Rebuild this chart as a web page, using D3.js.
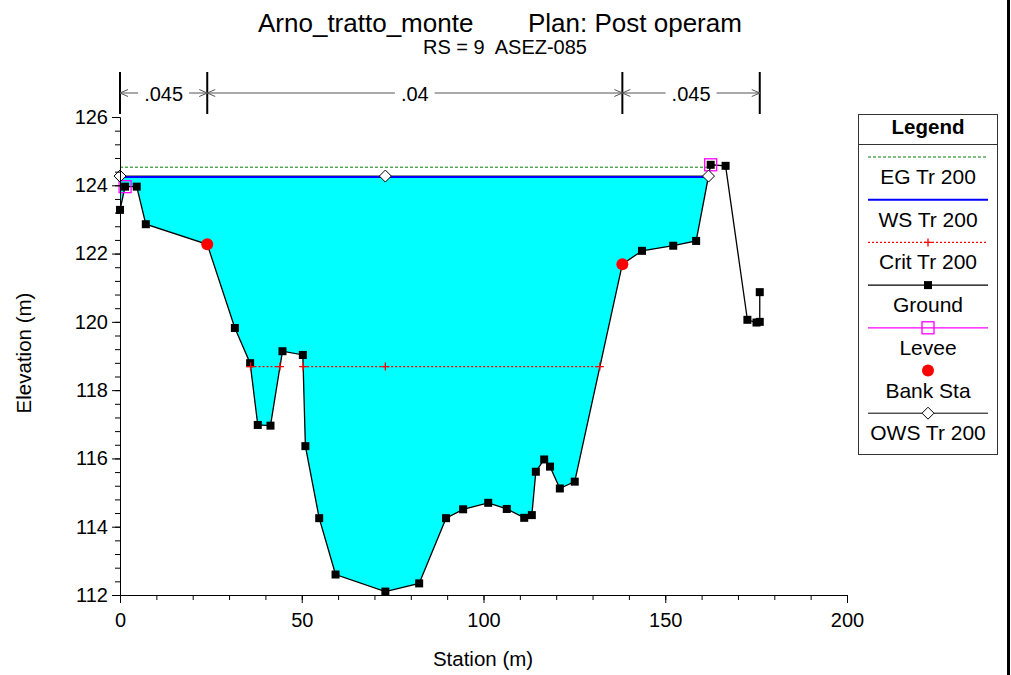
<!DOCTYPE html>
<html>
<head>
<meta charset="utf-8">
<script src="https://cdn.jsdelivr.net/npm/d3@7"></script>
<style>
body { margin: 0; background: #fff; }
text { font-family: "Liberation Sans", Arial, sans-serif; fill: #000; }
</style>
</head>
<body>
<svg id="xs" width="1011" height="675"></svg>
<script>
// ground profile (station m, elevation m)
const groundSta = [0, 1.4, 4.6, 7.1, 24.0, 31.6, 35.8, 37.9, 41.4, 44.7, 50.3, 51.0, 54.8, 59.3, 73.0, 82.3,
    89.7, 94.4, 101.3, 106.4, 111.2, 113.3, 114.4, 116.7, 118.3, 121.0, 125.1, 138.2, 143.6, 152.2, 158.5,
    162.5, 166.6, 172.6, 175.1, 176.0, 176.0];
const groundElev = [123.28, 123.96, 123.96, 122.86, 122.27, 119.82, 118.79, 116.98, 116.96, 119.14, 119.03, 116.36,
    114.25, 112.6, 112.1, 112.34, 114.25, 114.51, 114.7, 114.52, 114.26, 114.34, 115.61, 115.97, 115.76, 115.12,
    115.32, 121.69, 122.08, 122.23, 122.37, 124.6, 124.57, 120.06, 119.98, 120.0, 120.87];

const leveeSta = [1.4, 162.5];
const leveeElev = [123.96, 124.6];
const bankSta = [24.0, 138.2];
const bankElev = [122.27, 121.69];

const wsElev = 124.24;
const wsExtent = [0, 161.9];
const egElev = 124.53;
const egExtent = [0, 161.9];
const owsElev = 124.27;
const owsMarks = [0, 73, 161.9];
const critElev = 118.69;
const critSegs = [[35.9, 44.0], [50.4, 132.0]];
const critMarks = [35.9, 44.0, 50.4, 73, 132.0];

const nBounds = [0, 24.0, 138.2, 176.0];
const nValues = [".045", ".04", ".045"];

const xTicks = [0, 50, 100, 150, 200];
const yTicks = [112, 114, 116, 118, 120, 122, 124, 126];
const legendNames = ["EG Tr 200", "WS Tr 200", "Crit Tr 200", "Ground", "Levee", "Bank Sta", "OWS Tr 200"];

const svg = d3.select("#xs");
const x = d3.scaleLinear().domain([0, 200]).range([120, 847]);
const y = d3.scaleLinear().domain([112, 126]).range([595, 117]);

const ground = groundSta.map((s, i) => [s, groundElev[i]]);

// title
svg.append("text").attr("x", 258).attr("y", 32).style("font-size", "26px").text("Arno_tratto_monte");
svg.append("text").attr("x", 528).attr("y", 32).style("font-size", "26px").text("Plan: Post operam");
svg.append("text").attr("x", 505).attr("y", 54).attr("text-anchor", "middle")
    .style("font-size", "20px").style("white-space", "pre").text("RS = 9  ASEZ-085");

// water fill
const wetPts = [[wsExtent[0], wsElev]]
    .concat(ground.filter(d => d[0] < wsExtent[1]))
    .concat([[wsExtent[1], wsElev]]);
svg.append("path")
    .attr("d", d3.line().x(d => x(d[0])).y(d => y(d[1]))(wetPts) + "Z")
    .attr("fill", "#00ffff");

// EG
svg.append("line")
    .attr("x1", x(egExtent[0])).attr("x2", x(egExtent[1]))
    .attr("y1", y(egElev)).attr("y2", y(egElev))
    .attr("stroke", "#008000").attr("stroke-width", 1).attr("stroke-dasharray", "3,2");

// OWS line under WS
svg.append("line")
    .attr("x1", x(owsMarks[0])).attr("x2", x(owsMarks[2]))
    .attr("y1", y(owsElev)).attr("y2", y(owsElev))
    .attr("stroke", "#000").attr("stroke-width", 1);

// WS
svg.append("line")
    .attr("x1", x(wsExtent[0])).attr("x2", x(wsExtent[1]))
    .attr("y1", y(wsElev)).attr("y2", y(wsElev))
    .attr("stroke", "#0000ff").attr("stroke-width", 2);

// crit
critSegs.forEach(s => {
    svg.append("line")
        .attr("x1", x(s[0])).attr("x2", x(s[1]))
        .attr("y1", y(critElev)).attr("y2", y(critElev))
        .attr("stroke", "#ff0000").attr("stroke-width", 1.3).attr("stroke-dasharray", "2,2");
});

// ground
svg.append("path")
    .attr("d", d3.line().x(d => x(d[0])).y(d => y(d[1]))(ground))
    .attr("fill", "none").attr("stroke", "#000").attr("stroke-width", 1.3);
svg.selectAll("rect.gp").data(ground).enter().append("rect")
    .attr("class", "gp")
    .attr("x", d => x(d[0]) - 4).attr("y", d => y(d[1]) - 4)
    .attr("width", 8).attr("height", 8).attr("fill", "#000");

// crit markers
critMarks.forEach(s => {
    svg.append("path")
        .attr("d", `M${x(s) - 4},${y(critElev)}h8M${x(s)},${y(critElev) - 4}v8`)
        .attr("stroke", "#ff0000").attr("stroke-width", 1.3);
});

// levees
svg.selectAll("rect.lv").data(leveeSta).enter().append("rect")
    .attr("class", "lv")
    .attr("x", (d, i) => x(d) - 6).attr("y", (d, i) => y(leveeElev[i]) - 6)
    .attr("width", 12).attr("height", 12)
    .attr("fill", "none").attr("stroke", "#ff00ff").attr("stroke-width", 1.3);

// bank stations
svg.selectAll("circle.bk").data(bankSta).enter().append("circle")
    .attr("class", "bk")
    .attr("cx", d => x(d)).attr("cy", (d, i) => y(bankElev[i]))
    .attr("r", 6).attr("fill", "#ff0000");

// OWS diamonds
const diamond = (cx, cy) => `M${cx},${cy - 6}L${cx + 6},${cy}L${cx},${cy + 6}L${cx - 6},${cy}Z`;
owsMarks.forEach(s => {
    svg.append("path").attr("d", diamond(x(s), y(owsElev)))
        .attr("fill", "#fff").attr("stroke", "#000").attr("stroke-width", 1);
});

// axes
svg.append("g").attr("transform", "translate(0,595)")
    .call(d3.axisBottom(x).tickValues(xTicks).tickFormat(d3.format("d")).tickSize(8).tickSizeOuter(0).tickPadding(10));
svg.append("g").attr("transform", "translate(0,595)")
    .call(d3.axisBottom(x).tickValues(d3.range(0, 201, 10)).tickFormat("").tickSize(5).tickSizeOuter(0));
svg.append("g").attr("transform", "translate(120,0)")
    .call(d3.axisLeft(y).tickValues(yTicks).tickFormat(d3.format("d")).tickSize(8).tickSizeOuter(0).tickPadding(4));
svg.append("g").attr("transform", "translate(120,0)")
    .call(d3.axisLeft(y).tickValues(d3.range(0, 36).map(k => 112 + k * 0.4)).tickFormat("").tickSize(5).tickSizeOuter(0));
svg.selectAll(".tick text").style("font-size", "20px").attr("font-family", null);
svg.selectAll(".domain, .tick line").attr("stroke", "#000");

svg.append("text").attr("x", 483).attr("y", 666).attr("text-anchor", "middle")
    .style("font-size", "20.5px").text("Station (m)");
svg.append("text").attr("transform", "translate(31,353) rotate(-90)").attr("text-anchor", "middle")
    .style("font-size", "20.5px").text("Elevation (m)");

// manning n
const nY = 93;
nBounds.forEach(b => {
    svg.append("line").attr("x1", x(b)).attr("x2", x(b)).attr("y1", 72).attr("y2", 114)
        .attr("stroke", "#000").attr("stroke-width", 2);
});
nValues.forEach((v, i) => {
    const x1 = x(nBounds[i]), x2 = x(nBounds[i + 1]), cx = (x1 + x2) / 2;
    const t = svg.append("text").attr("x", cx).attr("y", nY + 8).attr("text-anchor", "middle")
        .style("font-size", "20px").text(v);
    const w = t.node().getComputedTextLength();
    svg.append("path")
        .attr("d", `M${x1},${nY}H${cx - w / 2 - 6}M${cx + w / 2 + 6},${nY}H${x2}` +
            `M${x1 + 8},${nY - 3.5}L${x1},${nY}L${x1 + 8},${nY + 3.5}` +
            `M${x2 - 8},${nY - 3.5}L${x2},${nY}L${x2 - 8},${nY + 3.5}`)
        .attr("fill", "none").attr("stroke", "#555").attr("stroke-width", 1);
});

// legend
const lg = svg.append("g");
lg.append("rect").attr("x", 858.5).attr("y", 114.5).attr("width", 139).attr("height", 340)
    .attr("fill", "#fff").attr("stroke", "#333").attr("stroke-width", 1);
lg.append("line").attr("x1", 858.5).attr("x2", 997.5).attr("y1", 144.5).attr("y2", 144.5)
    .attr("stroke", "#333");
lg.append("text").attr("x", 928).attr("y", 134).attr("text-anchor", "middle")
    .style("font-size", "20.5px").style("font-weight", "bold").text("Legend");
const lx1 = 868, lx2 = 988, lcx = 928;
legendNames.forEach((name, i) => {
    const ly = 157 + i * 42.7;
    lg.append("text").attr("x", lcx).attr("y", ly + 27).attr("text-anchor", "middle")
        .style("font-size", "21px").text(name);
    const ln = (c, w, dash) => lg.append("line").attr("x1", lx1).attr("x2", lx2).attr("y1", ly).attr("y2", ly)
        .attr("stroke", c).attr("stroke-width", w).attr("stroke-dasharray", dash);
    if (i === 0) ln("#008000", 1, "3,2");
    if (i === 1) ln("#0000ff", 2, null);
    if (i === 2) {
        ln("#ff0000", 1.3, "2,2");
        lg.append("path").attr("d", `M${lcx - 4},${ly}h8M${lcx},${ly - 4}v8`).attr("stroke", "#ff0000").attr("stroke-width", 1.3);
    }
    if (i === 3) {
        ln("#000", 1.3, null);
        lg.append("rect").attr("x", lcx - 4).attr("y", ly - 4).attr("width", 8).attr("height", 8).attr("fill", "#000");
    }
    if (i === 4) {
        ln("#ff00ff", 1.3, null);
        lg.append("rect").attr("x", lcx - 6).attr("y", ly - 6).attr("width", 12).attr("height", 12)
            .attr("fill", "none").attr("stroke", "#ff00ff").attr("stroke-width", 1.3);
    }
    if (i === 5) lg.append("circle").attr("cx", lcx).attr("cy", ly).attr("r", 6).attr("fill", "#ff0000");
    if (i === 6) {
        ln("#000", 1, null);
        lg.append("path").attr("d", diamond(lcx, ly)).attr("fill", "#fff").attr("stroke", "#000");
    }
});

// page border
svg.append("rect").attr("x", 1007).attr("y", 0).attr("width", 3).attr("height", 675).attr("fill", "#000");
</script>
</body>
</html>
